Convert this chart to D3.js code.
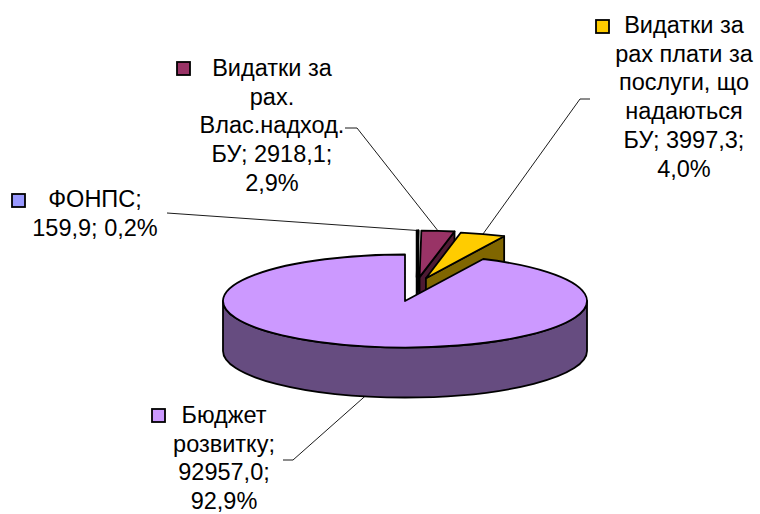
<!DOCTYPE html>
<meta charset="utf-8">
<style>
  body { margin: 0; background: #fff; }
  text { font-family: "Liberation Sans", Arial, sans-serif; font-size: 23.5px; fill: #000; }
</style>
<script src="https://d3js.org/d3.v7.min.js"></script>
<div id="chart"></div>
<script>

// data
var categories = ["ФОНПС", "Видатки за рах. Влас.надход. БУ", "Видатки за рах плати за послуги, що надаються БУ", "Бюджет розвитку"];
var values = [159.9, 2918.1, 3997.3, 92957.0];
var labelLines = [
  ["ФОНПС;", "159,9; 0,2%"],
  ["Видатки за", "рах.", "Влас.надход.", "БУ; 2918,1;", "2,9%"],
  ["Видатки за", "рах плати за", "послуги, що", "надаються", "БУ; 3997,3;", "4,0%"],
  ["Бюджет", "розвитку;", "92957,0;", "92,9%"]
];

// styles
var topColors  = ["#9999FF", "#993366", "#FFCC00", "#CC99FF"];
var sideColors = ["#4D4D80", "#4D1A33", "#806600", "#664C80"];
var exploded   = [true, true, true, false];

// label placement
var labelLayout = [
  {cx: 95,  y: 207, kx: 12,  ky: 194, leader: [[167, 213]]},
  {cx: 272, y: 76,  kx: 177, ky: 62,  leader: [[345, 128], [357, 128]]},
  {cx: 684, y: 33,  kx: 596, ky: 20,  leader: [[590, 99], [580, 99]]},
  {cx: 224, y: 423, kx: 152, ky: 409, leader: [[283, 460], [293, 460]]}
];

var width = 760, height = 514;
var cx = 405, cy = 301, rx = 182, ry = 46.5, depth = 50;
var lineGap = 28.7;

var svg = d3.select("#chart").append("svg")
  .attr("width", width)
  .attr("height", height);

var pie = d3.pie().sort(null).startAngle(0).endAngle(2 * Math.PI);
var arcs = pie(values);

// offset of an exploded slice
function offset(i, mid) {
  if (!exploded[i]) return [0, 0];
  return [11.5 + 30 * Math.sin(mid), -24 * Math.cos(mid)];
}
function pt(a, o, dz) {
  return [cx + o[0] + rx * Math.sin(a), cy + o[1] - ry * Math.cos(a) + (dz || 0)];
}

var g = svg.append("g")
  .attr("stroke", "#000")
  .attr("stroke-width", 1.8)
  .attr("stroke-linejoin", "round");

arcs.forEach(function(d, i) {
  var a0 = d.startAngle, a1 = d.endAngle, mid = (a0 + a1) / 2;
  var o = offset(i, mid);
  var apex = [cx + o[0], cy + o[1]];

  // start cut face
  if (Math.sin(a0) < -1e-6) {
    var p = pt(a0, o);
    g.append("path")
      .attr("d", "M" + apex + "L" + p + "L" + [p[0], p[1] + depth] + "L" + [apex[0], apex[1] + depth] + "Z")
      .attr("fill", sideColors[i]);
  }
  // end cut face
  if (Math.sin(a1) > 1e-6) {
    var q = pt(a1, o);
    g.append("path")
      .attr("d", "M" + apex + "L" + q + "L" + [q[0], q[1] + depth] + "L" + [apex[0], apex[1] + depth] + "Z")
      .attr("fill", sideColors[i]);
  }
  // outer front side
  var t0 = Math.max(a0, Math.PI / 2), t1 = Math.min(a1, 3 * Math.PI / 2);
  if (t1 > t0) {
    var s0 = pt(t0, o), s1 = pt(t1, o);
    var large = (t1 - t0) > Math.PI ? 1 : 0;
    g.append("path")
      .attr("d", "M" + s0 + "A" + rx + "," + ry + " 0 " + large + " 1 " + s1 +
        "L" + [s1[0], s1[1] + depth] + "A" + rx + "," + ry + " 0 " + large + " 0 " + [s0[0], s0[1] + depth] + "Z")
      .attr("fill", sideColors[i]);
  }
  // top face
  var p0 = pt(a0, o), p1 = pt(a1, o);
  var lg = (a1 - a0) > Math.PI ? 1 : 0;
  g.append("path")
    .attr("d", "M" + apex + "L" + p0 + "A" + rx + "," + ry + " 0 " + lg + " 1 " + p1 + "Z")
    .attr("fill", topColors[i]);
});

// leader lines
arcs.forEach(function(d, i) {
  var mid = (d.startAngle + d.endAngle) / 2;
  var o = offset(i, mid);
  var front = Math.cos(mid) < 0;
  var end = pt(mid, o, front ? depth : 0);
  var pts = labelLayout[i].leader.concat([end]);
  svg.append("path")
    .attr("d", d3.line()(pts))
    .attr("fill", "none")
    .attr("stroke", "#000")
    .attr("stroke-width", 0.9);
});

// labels
labelLines.forEach(function(lines, i) {
  var L = labelLayout[i];
  var t = svg.append("text").attr("text-anchor", "middle");
  lines.forEach(function(s, j) {
    t.append("tspan").attr("x", L.cx).attr("y", L.y + j * lineGap).text(s);
  });
  svg.append("rect")
    .attr("x", L.kx).attr("y", L.ky)
    .attr("width", 13).attr("height", 13)
    .attr("fill", topColors[i])
    .attr("stroke", "#000")
    .attr("stroke-width", 1.8);
});

</script>
